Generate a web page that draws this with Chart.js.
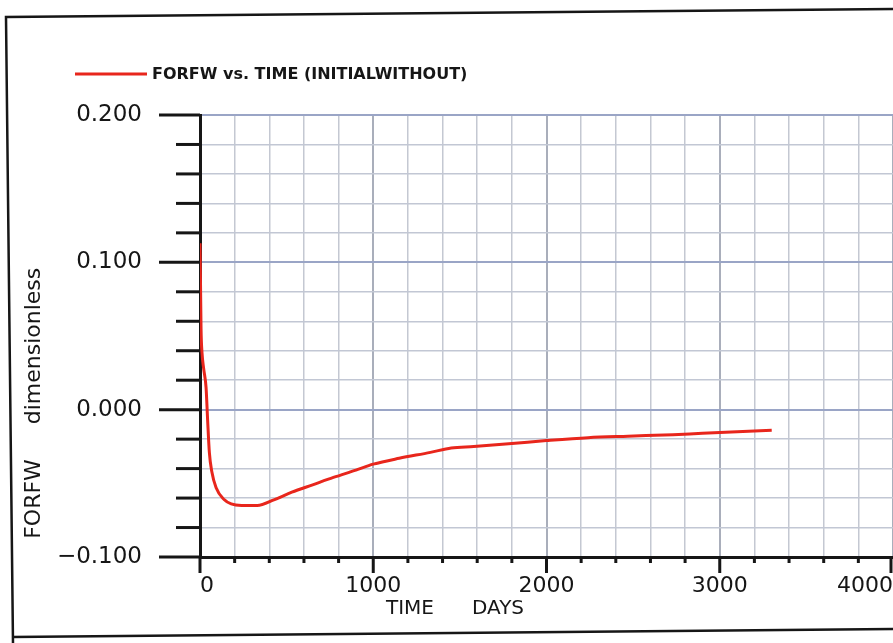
<!DOCTYPE html>
<html>
<head>
<meta charset="utf-8">
<script src="https://cdn.jsdelivr.net/npm/chart.js@4/dist/chart.umd.min.js"></script>
<style>
  html, body { margin: 0; padding: 0; background: #fff; }
  #wrap { width: 893px; height: 643px; }
</style>
</head>
<body>
<div id="wrap"><canvas id="chart" width="893" height="643"></canvas></div>
<script>
// FORFW vs. TIME (INITIALWITHOUT)
const TIME_DAYS = [0, 3, 6, 12, 21, 35, 44, 54, 68, 93, 139, 180, 240, 330, 430, 530, 650, 770,
                   900, 1000, 1150, 1330, 1450, 1580, 1800, 2000, 2240, 2470, 2730, 2900, 3100, 3300];
const FORFW     = [0.113, 0.085, 0.055, 0.038, 0.028, 0.015, -0.007, -0.029, -0.042, -0.053, -0.061, -0.064,
                   -0.065, -0.065, -0.061, -0.056, -0.051, -0.046, -0.041, -0.037, -0.033, -0.029, -0.026,
                   -0.025, -0.023, -0.021, -0.019, -0.018, -0.017, -0.016, -0.015, -0.014];

const SERIES_LABEL = 'FORFW vs. TIME (INITIALWITHOUT)';
const X_TITLE = ['TIME', 'DAYS'];
const Y_TITLE = ['FORFW', 'dimensionless'];

const X_MIN = 0, X_MAX = 4000, X_STEP = 200, X_MAJOR = 1000;
const Y_MIN = -0.1, Y_MAX = 0.2, Y_STEP = 0.02, Y_MAJOR = 0.1;

const RED  = '#e8261c';
const INK  = '#161616';
const FONT = '"DejaVu Sans", "Liberation Sans", sans-serif';

function isMajor(v, step) {
  const r = v / step;
  return Math.abs(r - Math.round(r)) < 1e-6;
}

// -----------------------------------------------
// frame, tick marks, legend and axis titles
// -----------------------------------------------
const decorPlugin = {
  id: 'decor',
  afterDraw(chart) {
    const ctx = chart.ctx;
    const area = chart.chartArea;
    const xs = chart.scales.x;
    const ys = chart.scales.y;

    ctx.save();
    ctx.strokeStyle = INK;
    ctx.lineCap = 'butt';

    // outer frame of the printout (the scan is a little tilted)
    ctx.lineWidth = 2.5;
    ctx.beginPath();
    ctx.moveTo(893, 9);
    ctx.lineTo(6, 17);
    ctx.lineTo(13, 643);
    ctx.moveTo(12, 637);
    ctx.lineTo(893, 629);
    ctx.stroke();

    // y tick marks (outside, left)
    ctx.lineWidth = 3;
    ys.ticks.forEach(function(t) {
      const y = ys.getPixelForValue(t.value);
      const len = isMajor(t.value, Y_MAJOR) ? 41 : 24;
      ctx.beginPath();
      ctx.moveTo(area.left - len, y);
      ctx.lineTo(area.left, y);
      ctx.stroke();
    });

    // x tick marks (outside, below)
    xs.ticks.forEach(function(t) {
      const x = Math.min(xs.getPixelForValue(t.value), 891);
      const len = isMajor(t.value, X_MAJOR) ? 16 : 6;
      ctx.beginPath();
      ctx.moveTo(x, area.bottom);
      ctx.lineTo(x, area.bottom + len);
      ctx.stroke();
    });

    // legend
    ctx.strokeStyle = RED;
    ctx.lineWidth = 3;
    ctx.beginPath();
    ctx.moveTo(75, 74);
    ctx.lineTo(147, 74);
    ctx.stroke();
    ctx.fillStyle = INK;
    ctx.font = 'bold 16px ' + FONT;
    ctx.textAlign = 'left';
    ctx.textBaseline = 'middle';
    ctx.fillText(SERIES_LABEL, 152, 75);

    // x axis title
    ctx.font = '20px ' + FONT;
    ctx.textAlign = 'center';
    ctx.fillText(X_TITLE[0], 410, 609);
    ctx.fillText(X_TITLE[1], 498, 609);

    // y axis title (rotated)
    ctx.translate(34, 0);
    ctx.rotate(-Math.PI / 2);
    ctx.font = '22px ' + FONT;
    ctx.fillText(Y_TITLE[0], -499, 0);
    ctx.fillText(Y_TITLE[1], -346, 0);

    ctx.restore();
  }
};

const points = TIME_DAYS.map(function(t, i) { return { x: t, y: FORFW[i] }; });

new Chart(document.getElementById('chart'), {
  type: 'line',
  data: {
    datasets: [{
      label: SERIES_LABEL,
      data: points,
      borderColor: RED,
      borderWidth: 3,
      pointRadius: 0,
      cubicInterpolationMode: 'monotone',
      fill: false
    }]
  },
  options: {
    responsive: false,
    animation: false,
    layout: { padding: { top: 115, left: 0, right: 0, bottom: 0 } },
    plugins: {
      legend: { display: false },
      tooltip: { enabled: false }
    },
    scales: {
      x: {
        type: 'linear',
        min: X_MIN,
        max: X_MAX,
        afterFit: function(s) { s.height = 86; s.paddingLeft = 0; s.paddingRight = 0; },
        afterBuildTicks: function(s) {
          s.ticks = [];
          for (let v = X_MIN; v <= X_MAX; v += X_STEP) s.ticks.push({ value: v });
        },
        border: { display: true, color: INK, width: 3 },
        grid: {
          drawTicks: false,
          color: function(c) { return isMajor(c.tick.value, X_MAJOR) ? '#a9aebb' : '#c4c8d2'; },
          lineWidth: function(c) { return isMajor(c.tick.value, X_MAJOR) ? 2 : 1.5; }
        },
        ticks: {
          autoSkip: false,
          maxRotation: 0,
          align: 'inner',
          padding: 16,
          color: INK,
          font: { family: FONT, size: 22 },
          callback: function(v) { return isMajor(v, X_MAJOR) ? String(v) : ''; }
        }
      },
      y: {
        type: 'linear',
        min: Y_MIN,
        max: Y_MAX,
        afterFit: function(s) { s.width = 200; s.paddingTop = 0; s.paddingBottom = 0; },
        afterBuildTicks: function(s) {
          s.ticks = [];
          for (let i = 0; i <= Math.round((Y_MAX - Y_MIN) / Y_STEP); i++) {
            s.ticks.push({ value: +(Y_MIN + i * Y_STEP).toFixed(3) });
          }
        },
        border: { display: true, color: INK, width: 3 },
        grid: {
          drawTicks: false,
          color: function(c) { return isMajor(c.tick.value, Y_MAJOR) ? '#9aa5c6' : '#c2c7d4'; },
          lineWidth: function(c) { return isMajor(c.tick.value, Y_MAJOR) ? 2 : 1.5; }
        },
        ticks: {
          autoSkip: false,
          padding: 58,
          color: INK,
          font: { family: FONT, size: 23 },
          callback: function(v) {
            if (!isMajor(v, Y_MAJOR)) return '';
            return (v < 0 ? '\u2212' : '') + Math.abs(v).toFixed(3);
          }
        }
      }
    }
  },
  plugins: [decorPlugin]
});
</script>
</body>
</html>
